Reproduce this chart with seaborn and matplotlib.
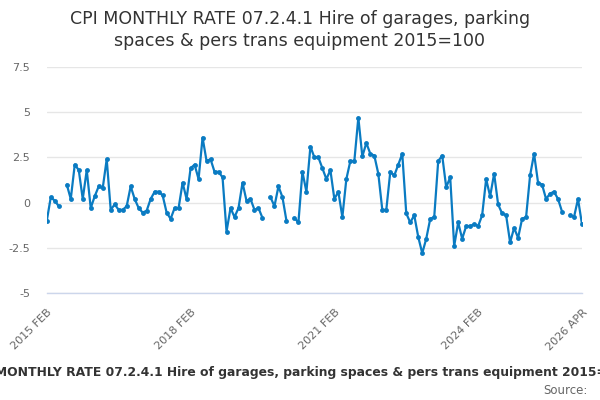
import matplotlib
matplotlib.use("Agg")
import matplotlib.pyplot as plt
import seaborn as sns
import numpy as np
import pandas as pd

# monthly rate, Feb 2015 .. Apr 2026 (NaN = no value published)
rate = [
    -1.0, 0.3, 0.1, -0.2, np.nan, 1.0, 0.2, 2.1, 1.8, 0.2,
    1.8, -0.3, 0.35, 0.9, 0.8, 2.4, -0.4, -0.1, -0.4, -0.4,
    -0.2, 0.9, 0.2, -0.3, -0.55, -0.45, 0.2, 0.6, 0.6, 0.4,
    -0.55, -0.9, -0.3, -0.3, 1.1, 0.2, 1.9, 2.1, 1.3, 3.6,
    2.3, 2.4, 1.7, 1.7, 1.4, -1.6, -0.3, -0.8, -0.3, 1.1,
    0.1, 0.2, -0.4, -0.3, -0.85, np.nan, 0.3, -0.2, 0.9, 0.3,
    -1.0, np.nan, -0.85, -1.1, 1.7, 0.6, 3.1, 2.5, 2.5, 1.9,
    1.3, 1.8, 0.2, 0.6, -0.8, 1.3, 2.3, 2.3, 4.7, 2.55,
    3.3, 2.7, 2.6, 1.6, -0.4, -0.4, 1.7, 1.5, 2.1, 2.7,
    -0.6, -1.1, -0.7, -1.9, -2.8, -2.0, -0.9, -0.8, 2.3, 2.6,
    0.85, 1.4, -2.4, -1.1, -2.0, -1.3, -1.3, -1.2, -1.3, -0.7,
    1.3, 0.35, 1.6, -0.1, -0.6, -0.7, -2.2, -1.4, -1.95, -0.9,
    -0.8, 1.5, 2.7, 1.1, 1.0, 0.2, 0.5, 0.6, 0.2, -0.5,
    np.nan, -0.7, -0.8, 0.2, -1.2,
]
months = pd.period_range("2015-02", "2026-04", freq="M")
tick_labels = {0: "2015 FEB", 36: "2018 FEB", 72: "2021 FEB", 108: "2024 FEB", 134: "2026 APR"}
y_ticks = [-5, -2.5, 0, 2.5, 5, 7.5]
y_tick_labels = ["-5", "-2.5", "0", "2.5", "5", "7.5"]

title = "CPI MONTHLY RATE 07.2.4.1 Hire of garages, parking spaces & pers trans equipment 2015=100"

df = pd.DataFrame({"idx": np.arange(len(months)), "rate": rate})
# split into runs so the gaps stay open
df["seg"] = df["rate"].isna().cumsum()
df = df.dropna()

sns.set_style("white")
fig = plt.figure(figsize=(6, 4), dpi=100)
ax = fig.add_axes([0.078, 0.2675, 0.892, 0.565])

sns.lineplot(data=df, x="idx", y="rate", units="seg", estimator=None,
             color="#0a7bc2", linewidth=1.6, marker="o", markersize=3.5,
             markeredgewidth=0, ax=ax)

ax.set_xlim(0, len(months) - 1)
ax.set_ylim(-5, 7.5)
ax.set_yticks(y_ticks)
ax.set_yticklabels(y_tick_labels)
ax.grid(axis="y", color="#e6e6e6", linewidth=1)
ax.set_axisbelow(True)

xt = list(range(0, len(months), 9)) + [len(months) - 1]
ax.set_xticks(xt)
ax.set_xticklabels([tick_labels.get(t, "") for t in xt], rotation=45, ha="right",
                   rotation_mode="anchor")
ax.tick_params(axis="x", colors="#ccd6eb", labelcolor="#666666", labelsize=8,
               length=8, width=1, direction="out", pad=2)
ax.tick_params(axis="y", length=0, labelcolor="#666666", labelsize=8, pad=12)
for lab in ax.get_yticklabels():
    lab.set_horizontalalignment("right")

for s in ["top", "right", "left"]:
    ax.spines[s].set_visible(False)
ax.spines["bottom"].set_color("#ccd6eb")
ax.spines["bottom"].set_linewidth(1)
ax.set_xlabel("")
ax.set_ylabel("")

fig.text(0.5, 0.975, "CPI MONTHLY RATE 07.2.4.1 Hire of garages, parking\nspaces & pers trans equipment 2015=100",
         ha="center", va="top", fontsize=12.5, color="#333333", linespacing=1.25)
# the long caption is wider than the figure in the original too
fig.text(0.5, 0.068, title, ha="center", va="center", fontsize=8.9,
         fontweight="bold", color="#333333")
fig.text(0.98, 0.025, "Source:", ha="right", va="center", fontsize=8.5, color="#666666")

fig.savefig("out.png", dpi=100)
